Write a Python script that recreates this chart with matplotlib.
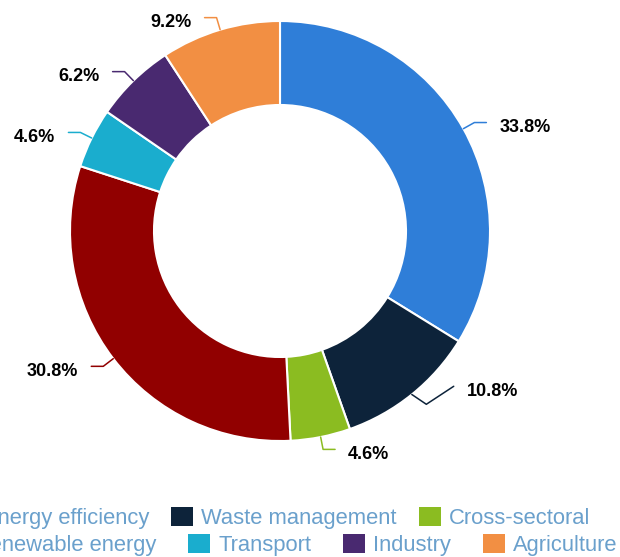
import matplotlib
matplotlib.use('Agg')
import matplotlib.pyplot as plt
from matplotlib.patches import Patch
import numpy as np

plt.rcParams['font.family'] = ['Liberation Sans', 'DejaVu Sans']

categories = ['Energy efficiency', 'Waste management', 'Cross-sectoral',
              'Renewable energy', 'Transport', 'Industry', 'Agriculture']
shares = [33.8, 10.8, 4.6, 30.8, 4.6, 6.2, 9.2]
colors = ['#2f7ed8', '#0d233a', '#8bbc21', '#910000', '#1aadce', '#492970', '#f28f43']

# figure is 620x557 px, pie centre at (280, 231) px, radius 210 px
W, H, R = 620, 557, 210.0
cx, cy = 280, 231
px = 1.0 / R

fig = plt.figure(figsize=(6.2, 5.57), dpi=100)
ax = fig.add_axes([0, 0, 1, 1])

wedges, _ = ax.pie(shares, colors=colors, startangle=90, counterclock=False,
                   radius=1.0, wedgeprops=dict(width=0.4, edgecolor='white', linewidth=1.5))
ax.set_aspect('auto')
ax.set_xlim(-cx / R, (W - cx) / R)
ax.set_ylim(-(H - cy) / R, cy / R)
ax.axis('off')

# extra nudges (px) where the labels got pushed around
nudge = {1: (22, 18)}

for i, w in enumerate(wedges):
    ang = np.deg2rad((w.theta1 + w.theta2) / 2)
    c, s = np.cos(ang), np.sin(ang)
    side = 1 if c >= 0 else -1
    sx, sy = c, s
    bx, by = 1.06 * c, 1.06 * s
    ex, ey = bx + side * 12 * px, by
    if i in nudge:
        dx, dy = nudge[i]
        ex, ey = ex + dx * px, ey + dy * px
        bx = bx + 0.3 * dx * px
    ax.plot([sx, bx, ex], [sy, by, ey], color=colors[i], lw=1.1, solid_capstyle='round')
    ax.text(ex + side * 13 * px, ey - 5 * px, '%.1f%%' % shares[i],
            ha='left' if side > 0 else 'right', va='center',
            fontsize=13, fontweight='bold', color='#000000')

handles = [Patch(facecolor=col, edgecolor='none') for col in colors]
leg_kw = dict(frameon=False, fontsize=15.8, handlelength=1.0, handleheight=1.0,
              handletextpad=0.36, borderpad=0, borderaxespad=0,
              labelcolor='#6aa0cc')
leg1 = fig.legend(handles[:3], categories[:3], ncol=3, loc='center right',
                  bbox_to_anchor=(590 / W, 1 - 518 / H), columnspacing=1.0, **leg_kw)
leg2 = fig.legend(handles[3:], categories[3:], ncol=4, loc='center right',
                  bbox_to_anchor=(617 / W, 1 - 545 / H), columnspacing=1.45, **leg_kw)

fig.savefig('out.png', dpi=100)
